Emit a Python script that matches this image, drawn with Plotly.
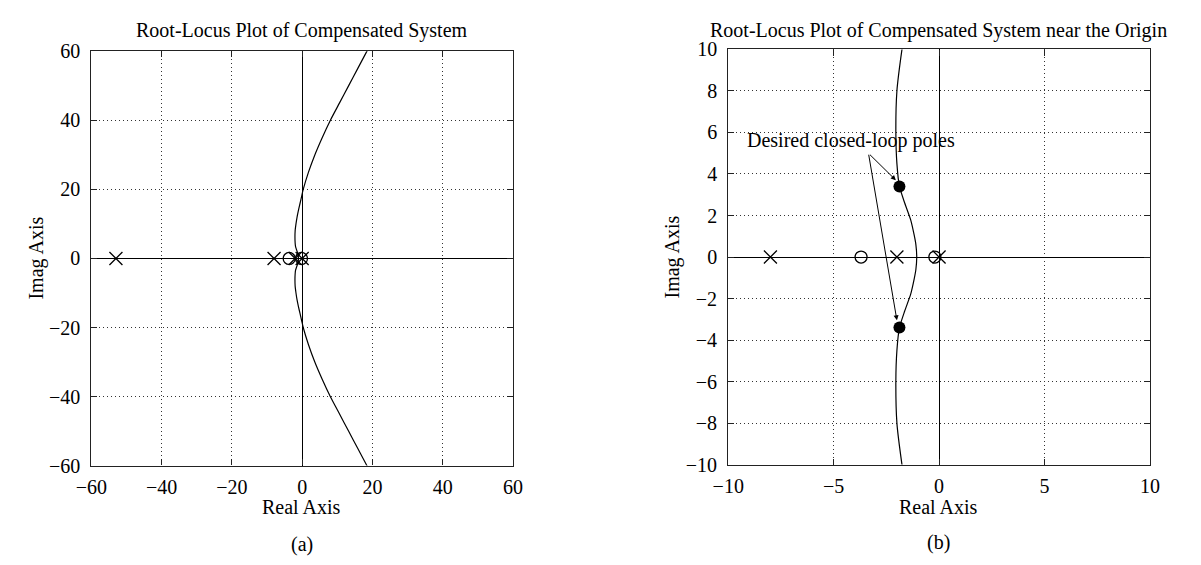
import plotly.graph_objects as go
from plotly.subplots import make_subplots

# open-loop poles / zeros (real parts, all on the real axis)
POLES_RE = [-53.0, -8.0, -2.0, 0.0]
ZEROS_RE = [-3.7, -0.2]

# upper half of the complex branch (lower half is its mirror image)
LOCUS_IM = [0, 0.6, 1.05, 1.8, 2.6, 3.4, 4.5, 6, 8, 10, 12, 14, 16, 18, 20, 25, 30, 35, 40, 45, 50, 55, 60, 63]
LOCUS_RE = [-1.06, -1.1, -1.18, -1.35, -1.63, -1.88, -2.0, -2.05, -2.0, -1.76, -1.45, -1.05, -0.6, -0.15,
            0.3, 1.8, 3.6, 5.7, 8.0, 10.6, 13.2, 15.8, 18.4, 20.0]

# desired closed-loop poles
DESIRED_RE = [-1.88, -1.88]
DESIRED_IM = [3.4, -3.4]

TICKS_A = [-60, -40, -20, 0, 20, 40, 60]
TICKS_B_X = [-10, -5, 0, 5, 10]
TICKS_B_Y = [-10, -8, -6, -4, -2, 0, 2, 4, 6, 8, 10]

FONT = "Liberation Serif"
W, H = 1201, 565


def lbl(v):
    return str(v).replace("-", "\u2212")


# full curve: lower half (reversed, mirrored) then upper half
curve_x = LOCUS_RE[::-1] + LOCUS_RE[1:]
curve_y = [-v for v in LOCUS_IM[::-1]] + LOCUS_IM[1:]

fig = make_subplots(rows=1, cols=2)

for col in (1, 2):
    fig.add_trace(go.Scatter(x=curve_x, y=curve_y, mode="lines",
                             line=dict(color="black", width=1.2, shape="spline", smoothing=0.6),
                             showlegend=False, hoverinfo="skip"), row=1, col=col)
    fig.add_trace(go.Scatter(x=POLES_RE, y=[0] * len(POLES_RE), mode="markers",
                             marker=dict(symbol="x-thin-open", size=13, color="black",
                                         line=dict(color="black", width=1.3)),
                             showlegend=False, cliponaxis=True), row=1, col=col)
    fig.add_trace(go.Scatter(x=ZEROS_RE, y=[0] * len(ZEROS_RE), mode="markers",
                             marker=dict(symbol="circle-open", size=12, color="black",
                                         line=dict(color="black", width=1.3)),
                             showlegend=False, cliponaxis=True), row=1, col=col)

fig.add_trace(go.Scatter(x=DESIRED_RE, y=DESIRED_IM, mode="markers",
                         marker=dict(symbol="circle", size=12, color="black"),
                         showlegend=False), row=1, col=2)

axis_common = dict(showline=True, linecolor="#222222", linewidth=1.2, mirror="ticks",
                   ticks="inside", ticklen=6, tickcolor="#222222", tickwidth=1.2,
                   showgrid=True, gridcolor="#333333", griddash="1px,3px", gridwidth=1,
                   zeroline=True, zerolinecolor="black", zerolinewidth=1.2,
                   tickfont=dict(family=FONT, size=20, color="black"))

fig.update_xaxes(range=[-60, 60], tickvals=TICKS_A, ticktext=[lbl(v) for v in TICKS_A],
                 domain=[77 / W, 508 / W], ticklabelstandoff=3, **axis_common, row=1, col=1)
fig.update_yaxes(range=[-60, 60], tickvals=TICKS_A, ticktext=[lbl(v) for v in TICKS_A],
                 domain=[1 - 473 / H, 1 - 42 / H], ticklabelstandoff=6, **axis_common, row=1, col=1)
fig.update_xaxes(range=[-10, 10], tickvals=TICKS_B_X, ticktext=[lbl(v) for v in TICKS_B_X],
                 domain=[728 / W, 1159 / W], ticklabelstandoff=3, **axis_common, row=1, col=2)
fig.update_yaxes(range=[-10, 10], tickvals=TICKS_B_Y, ticktext=[lbl(v) for v in TICKS_B_Y],
                 domain=[1 - 472 / H, 1 - 40 / H], ticklabelstandoff=6, **axis_common, row=1, col=2)

txt = dict(family=FONT, size=20, color="black")
notes = [
    ("Root-Locus Plot of Compensated System", 292, 20, 0),
    ("Root-Locus Plot of Compensated System near the Origin", 943, 20, 0),
    ("Real Axis", 292, 516, 0),
    ("Real Axis", 943, 516, 0),
    ("(a)", 292, 555, 0),
    ("(b)", 943, 553, 0),
    ("Imag Axis", 21, 257, -90),
    ("Imag Axis", 671, 256, -90),
]
for text, px, py, ang in notes:
    fig.add_annotation(text=text, x=px / W, y=1 - py / H, xref="paper", yref="paper",
                       xanchor="center", yanchor="middle", showarrow=False,
                       textangle=ang, font=txt)

# pointer label and its two arrows
fig.add_annotation(text="Desired closed-loop poles", x=-9.2, y=5.6, xref="x2", yref="y2",
                   xanchor="left", yanchor="middle", showarrow=False, font=txt)
for tip_x, tip_y in [(-2.05, 3.7), (-2.0, -3.05)]:
    fig.add_annotation(text="", x=tip_x, y=tip_y, ax=-3.35, ay=5.0, xref="x2", yref="y2",
                       axref="x2", ayref="y2", showarrow=True, arrowhead=2, arrowsize=1,
                       arrowwidth=1, arrowcolor="black", standoff=0)

fig.update_layout(width=W, height=H, margin=dict(l=0, r=0, t=0, b=0),
                  paper_bgcolor="white", plot_bgcolor="white", showlegend=False,
                  font=dict(family=FONT, size=20, color="black"))

# page body has a default 8px margin; drop it so the figure sits at the window corner
fig.write_html("out.html", config={"displayModeBar": False},
               post_script="document.body.style.margin='0';")
